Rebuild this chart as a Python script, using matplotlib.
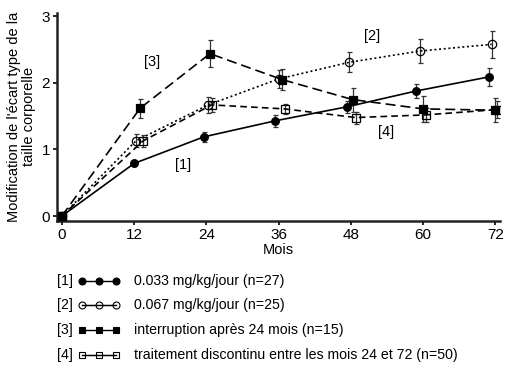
import matplotlib
matplotlib.use("Agg")
import matplotlib.pyplot as plt
from matplotlib.lines import Line2D

plt.rcParams["font.family"] = ["Liberation Sans", "DejaVu Sans"]

# months (points are slightly offset in the original to avoid overlap)
x1 = [0, 12.0, 23.6, 35.4, 47.3, 58.9, 70.9]
y1 = [0, 0.79, 1.19, 1.43, 1.64, 1.88, 2.09]
e1 = [0, 0.04, 0.08, 0.09, 0.09, 0.11, 0.13]

x2 = [0, 12.3, 24.3, 36.0, 47.7, 59.5, 71.4]
y2 = [0, 1.13, 1.67, 2.06, 2.31, 2.48, 2.58]
e2 = [0, 0.10, 0.12, 0.14, 0.15, 0.18, 0.20]

x3 = [0, 13.0, 24.6, 36.6, 48.3, 60.0, 72.0]
y3 = [0, 1.62, 2.44, 2.05, 1.75, 1.61, 1.59]
e3 = [0, 0.14, 0.20, 0.16, 0.18, 0.20, 0.18]

x4 = [0, 13.5, 24.9, 37.0, 48.8, 60.5, 72.3]
y4 = [0, 1.13, 1.67, 1.61, 1.48, 1.52, 1.60]
e4 = [0, 0.09, 0.10, 0.08, 0.09, 0.10, 0.13]

xticks = [0, 12, 24, 36, 48, 60, 72]
yticks = [0, 1, 2, 3]

labels = [
    "0.033 mg/kg/jour (n=27)",
    "0.067 mg/kg/jour (n=25)",
    "interruption après 24 mois (n=15)",
    "traitement discontinu entre les mois 24 et 72 (n=50)",
]

fig = plt.figure(figsize=(5.14, 3.74), dpi=100)
ax = fig.add_axes([0.111, 0.410, 0.862, 0.555])

col = "black"
styles = [
    dict(ls="-", marker="o", mfc=col, ms=5.5),
    dict(ls=(0, (1.2, 1.6)), marker="o", mfc="none", ms=6),
    dict(ls=(0, (6, 3)), marker="s", mfc=col, ms=6),
    dict(ls=(0, (4, 2.5)), marker="s", mfc="none", ms=5.5),
]
series = [(x1, y1, e1), (x2, y2, e2), (x3, y3, e3), (x4, y4, e4)]
for (xs, ys, es), st in zip(series, styles):
    ax.errorbar(xs, ys, yerr=es, color=col, lw=1.2, ecolor="#333333",
                elinewidth=0.9, capsize=1.8, capthick=0.9, mec=col, mew=0.9,
                zorder=3, **st)

ax.set_xlim(-0.8, 72.8)
ax.set_ylim(-0.07, 3.05)
ax.set_xticks(xticks)
ax.set_yticks(yticks)
ax.tick_params(labelsize=11, direction="out", length=3, width=1.2, pad=2)
for s in ["top", "right"]:
    ax.spines[s].set_visible(False)
for s in ["left", "bottom"]:
    ax.spines[s].set_linewidth(1.8)
    ax.spines[s].set_color("#222222")

ax.set_xlabel("Mois", fontsize=10.5, labelpad=1)
ax.set_ylabel("Modification de l'écart type de la\ntaille corporelle",
              fontsize=10.5, labelpad=4, linespacing=1.1)

ax.text(15, 2.31, "[3]", fontsize=10.5, ha="center", va="center")
ax.text(20.1, 0.77, "[1]", fontsize=10.5, ha="center", va="center")
ax.text(51.6, 2.71, "[2]", fontsize=10.5, ha="center", va="center")
ax.text(53.9, 1.26, "[4]", fontsize=10.5, ha="center", va="center")

# custom legend below the axes
W, H = 514, 374
rows = [280.7, 305, 330, 355]
for i, (yy, st, lab) in enumerate(zip(rows, styles, labels)):
    fy = 1 - yy / H
    fig.text(57 / W, fy, f"[{i + 1}]", fontsize=10.2, va="center", ha="left")
    ln = Line2D([82 / W, 99 / W, 116 / W], [fy, fy, fy], transform=fig.transFigure,
                color=col, lw=1.0, marker=st["marker"], mfc=st["mfc"], mec=col,
                ms=5, mew=0.8)
    fig.add_artist(ln)
    if st["mfc"] == "none":
        fig.add_artist(Line2D([82 / W, 116 / W], [fy, fy], transform=fig.transFigure,
                              color=col, lw=0.8))
    fig.text(134 / W, fy, lab, fontsize=10.2, va="center", ha="left")

fig.savefig("out.png", dpi=100)
